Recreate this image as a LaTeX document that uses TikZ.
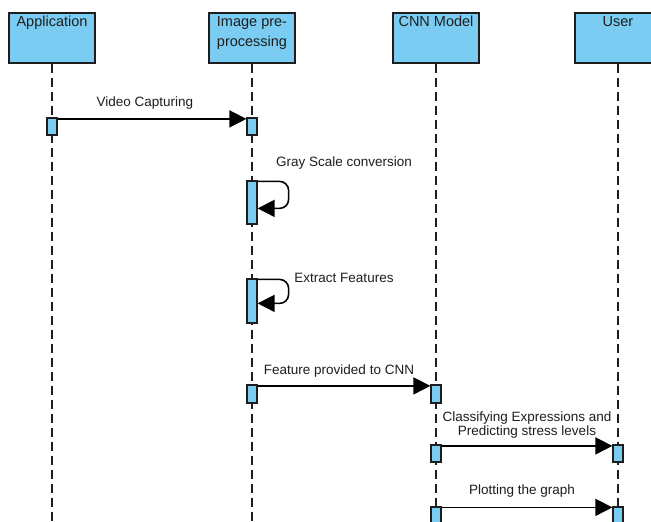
\documentclass[tikz,border=0pt]{standalone}
\usepackage{fontspec}
\setmainfont{Liberation Sans}
\usetikzlibrary{arrows.meta}
\definecolor{boxblue}{RGB}{122,204,242}
\definecolor{inkgray}{RGB}{30,30,30}
\begin{document}
\begin{tikzpicture}[x=1pt, y=-1pt,
  head/.style={draw=inkgray, fill=boxblue, line width=1.4pt, minimum width=86pt, minimum height=50pt, inner sep=0pt},
  headtxt/.style={font=\fontsize{14.5}{20}\selectfont, text=inkgray, align=center, anchor=north, inner sep=0pt},
  life/.style={draw=inkgray, line width=1.3pt, dash pattern=on 9pt off 5pt},
  act/.style={draw=inkgray, fill=boxblue, line width=1.2pt, minimum width=10pt, inner sep=0pt},
  msg/.style={draw=black, line width=1.6pt, -{Triangle[length=17pt,width=17pt]}},
  lbl/.style={font=\fontsize{13.5}{14}\selectfont, text=inkgray, align=center, inner sep=0pt}]
\useasboundingbox[fill=white] (0,0) rectangle (651,522);
% lifeline heads
\node[head] (app) at (52,38) {};
\node[headtxt] (appt) at (52,16) {Application};
\node[head] (pre) at (252,38) {};
\node[headtxt] (pret) at (252,16) {Image pre-\\processing};
\node[head] (cnn) at (436,38) {};
\node[headtxt] (cnnt) at (436,16) {CNN Model};
\node[head] (usr) at (618,38) {};
\node[headtxt] (usrt) at (618,16) {User};
% lifelines
\coordinate (appe) at (52,525);
\coordinate (pree) at (252,525);
\coordinate (cnne) at (436,525);
\coordinate (usre) at (618,525);
\draw[life] (app.south) -- (appe);
\draw[life] (pre.south) -- (pree);
\draw[life] (cnn.south) -- (cnne);
\draw[life] (usr.south) -- (usre);
% activations
\node[act, minimum height=17pt] (a1) at (52,126.5) {};
\node[act, minimum height=17pt] (p1) at (252,126.5) {};
\node[act, minimum height=43pt] (p2) at (252,202.5) {};
\node[act, minimum height=44pt] (p3) at (252,301) {};
\node[act, minimum height=18pt] (p4) at (252,394) {};
\node[act, minimum height=18pt] (c1) at (436,394) {};
\node[act, minimum height=17pt] (c2) at (436,453.5) {};
\node[act, minimum height=17pt] (u1) at (618,453.5) {};
\node[act, minimum height=24pt] (c3) at (436,519) {};
\node[act, minimum height=24pt] (u2) at (618,519) {};
% messages
\draw[msg] ([yshift=-1.5pt]a1.north east) -- node[lbl, above=9pt, xshift=-7pt] (m1) {Video Capturing} ([yshift=-1.5pt]p1.north west);
\draw[msg, rounded corners=9pt] ([yshift=-1pt]p2.north east) -- ++(31,0) -- ++(0,27) -- ++(-31,0);
\node[lbl] (m2) at (344,163) {Gray Scale conversion};
\draw[msg, rounded corners=9pt] ([yshift=-1pt]p3.north east) -- ++(31,0) -- ++(0,24) -- ++(-31,0);
\node[lbl] (m3) at (344,278) {Extract Features};
\draw[msg] ([yshift=-1.5pt]p4.north east) -- node[lbl, above=8pt, xshift=-5pt] (m4) {Feature provided to CNN} ([yshift=-1.5pt]c1.north west);
\draw[msg] ([yshift=-1.5pt]c2.north east) -- node[lbl, above=7pt] (m5) {Classifying Expressions and\\Predicting stress levels} ([yshift=-1.5pt]u1.north west);
\draw[msg] ([yshift=-1pt]c3.north east) -- node[lbl, above=9pt, xshift=-5pt] (m6) {Plotting the graph} ([yshift=-1pt]u2.north west);
\end{tikzpicture}
\end{document}
